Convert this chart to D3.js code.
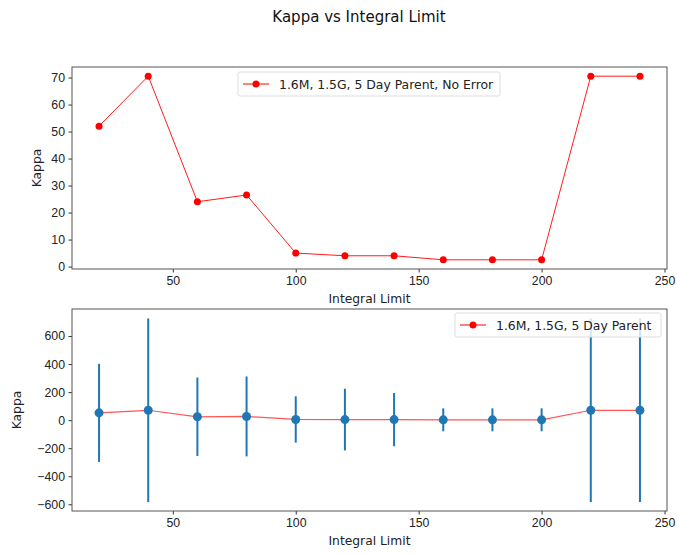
<!DOCTYPE html>
<meta charset="utf-8">
<style>
body { margin: 0; background: white; font-family: "DejaVu Sans", sans-serif; }
.tick text { font-size: 12.3px; fill: #222; }
.label { font-size: 12.3px; fill: #222; }
</style>
<body>
<script src="https://cdn.jsdelivr.net/npm/d3@7"></script>
<script>

var limits = [20, 40, 60, 80, 100, 120, 140, 160, 180, 200, 220, 240];
var kappa = [52, 70.5, 24, 26.5, 5, 4, 4, 2.5, 2.5, 2.5, 70.5, 70.5];
var kappaErr = [350, 655, 280, 285, 165, 220, 190, 82, 82, 82, 655, 655];
var xTicks = [50, 100, 150, 200, 250];
var topTicks = [0, 10, 20, 30, 40, 50, 60, 70];
var botTicks = [-600, -400, -200, 0, 200, 400, 600];
var topName = "1.6M, 1.5G, 5 Day Parent, No Error";
var botName = "1.6M, 1.5G, 5 Day Parent";

var width = 677, height = 554;
var left = 72, right = 667;

var svg = d3.select("body").append("svg")
    .attr("width", width)
    .attr("height", height);

svg.append("text")
    .attr("x", 359)
    .attr("y", 22)
    .attr("text-anchor", "middle")
    .style("font-size", "15px")
    .style("fill", "#111")
    .text("Kappa vs Integral Limit");

var x = d3.scaleLinear().domain([9, 251]).range([left, right]);

function panel(top, bottom, yDomain, ticks, ylabelX) {
  var y = d3.scaleLinear().domain(yDomain).range([bottom, top]);
  var g = svg.append("g");

  g.append("g")
      .attr("transform", "translate(0," + bottom + ")")
      .call(d3.axisBottom(x).tickValues(xTicks).tickSize(3.5).tickPadding(3.5));
  g.append("g")
      .attr("transform", "translate(" + left + ",0)")
      .call(d3.axisLeft(y).tickValues(ticks).tickSize(3.5).tickPadding(3.5)
        .tickFormat(function(d) { return d < 0 ? "\u2212" + Math.abs(d) : d; }));

  g.selectAll(".domain").remove();
  g.selectAll(".tick line").attr("stroke", "#333");

  g.append("rect")
      .attr("x", left).attr("y", top)
      .attr("width", right - left).attr("height", bottom - top)
      .attr("fill", "none").attr("stroke", "#555").attr("stroke-width", 1);

  g.append("text")
      .attr("class", "label")
      .attr("x", (left + right) / 2)
      .attr("y", bottom + 34)
      .attr("text-anchor", "middle")
      .text("Integral Limit");

  g.append("text")
      .attr("class", "label")
      .attr("transform", "translate(" + ylabelX + "," + (top + bottom) / 2 + ") rotate(-90)")
      .attr("text-anchor", "middle")
      .text("Kappa");

  return { g: g, y: y };
}

function legend(g, x0, y0, w, label) {
  g.append("rect")
      .attr("x", x0).attr("y", y0)
      .attr("width", w).attr("height", 24)
      .attr("rx", 2)
      .attr("fill", "white").attr("fill-opacity", 0.8)
      .attr("stroke", "#ddd");
  g.append("line")
      .attr("x1", x0 + 5).attr("x2", x0 + 31)
      .attr("y1", y0 + 12).attr("y2", y0 + 12)
      .attr("stroke", "red").attr("stroke-width", 1);
  g.append("circle")
      .attr("cx", x0 + 18).attr("cy", y0 + 12).attr("r", 3.5)
      .attr("fill", "red");
  g.append("text")
      .attr("x", x0 + 41).attr("y", y0 + 16.5)
      .style("font-size", "12.4px").style("fill", "#222")
      .text(label);
}

var line;

// top panel
var p1 = panel(67, 269, [-0.9, 73.9], topTicks, 41);
line = d3.line().x(function(d, i) { return x(limits[i]); }).y(function(d) { return p1.y(d); });
p1.g.append("path")
    .datum(kappa)
    .attr("d", line)
    .attr("fill", "none").attr("stroke", "red").attr("stroke-width", 0.9);
p1.g.selectAll(".dot")
    .data(kappa)
  .enter().append("circle")
    .attr("cx", function(d, i) { return x(limits[i]); })
    .attr("cy", function(d) { return p1.y(d); })
    .attr("r", 3.5)
    .attr("fill", "red");
legend(p1.g, 238, 72, 262, topName);

// bottom panel
var p2 = panel(309, 511, [-648, 793], botTicks, 21);
p2.g.selectAll(".err")
    .data(kappa)
  .enter().append("line")
    .attr("x1", function(d, i) { return x(limits[i]); })
    .attr("x2", function(d, i) { return x(limits[i]); })
    .attr("y1", function(d, i) { return Math.max(p2.y(d + kappaErr[i]), 309); })
    .attr("y2", function(d, i) { return p2.y(d - kappaErr[i]); })
    .attr("stroke", "#1f77b4").attr("stroke-width", 2);
line = d3.line().x(function(d, i) { return x(limits[i]); }).y(function(d) { return p2.y(d); });
p2.g.append("path")
    .datum(kappa)
    .attr("d", line)
    .attr("fill", "none").attr("stroke", "#ff5555").attr("stroke-width", 1.2);
p2.g.selectAll(".bdot")
    .data(kappa)
  .enter().append("circle")
    .attr("cx", function(d, i) { return x(limits[i]); })
    .attr("cy", function(d) { return p2.y(d); })
    .attr("r", 4.5)
    .attr("fill", "#1f77b4");
legend(p2.g, 455, 313, 206, botName);

</script>
</body>
